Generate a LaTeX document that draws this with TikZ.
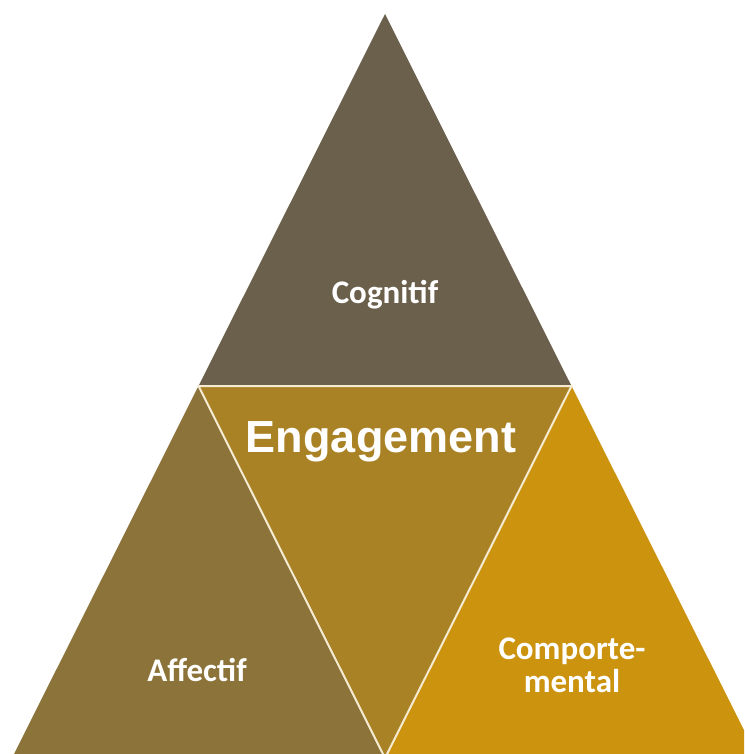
\documentclass[tikz,border=0pt]{standalone}
\usepackage{fontspec}
\setmainfont{Carlito}
\newfontfamily\arialbf[BoldFont={Liberation Sans Bold}]{Liberation Sans}
\definecolor{topc}{HTML}{6B604C}
\definecolor{leftc}{HTML}{8B7339}
\definecolor{midc}{HTML}{AA8226}
\definecolor{rightc}{HTML}{CC930F}
\definecolor{sep}{HTML}{F4EBD2}
\tikzset{
  part/.style={draw=none},
  sepline/.style={draw=sep, line width=2pt, line join=miter},
  lbl/.style={text=white, font=\fontsize{33}{33}\selectfont\bfseries, anchor=base, inner sep=0pt, align=center},
  title/.style={text=white, font=\fontsize{45}{48}\selectfont\arialbf\bfseries, anchor=base, inner sep=0pt}
}
\begin{document}
\begin{tikzpicture}[x=1pt,y=-1pt]
\useasboundingbox (0,0) rectangle (744,754);
\fill[white] (0,0) rectangle (744,754);
\begin{scope}
\clip (0,0) rectangle (744,754);
\coordinate (A) at (385,14);
\coordinate (L) at (12,758);
\coordinate (R) at (758,758);
\coordinate (ML) at (198.5,386);
\coordinate (MR) at (571.5,386);
\coordinate (MB) at (385,758);
\fill[topc] (A) -- (ML) -- (MR) -- cycle;
\fill[leftc] (ML) -- (L) -- (MB) -- cycle;
\fill[rightc] (MR) -- (MB) -- (R) -- cycle;
\fill[midc] (ML) -- (MR) -- (MB) -- cycle;
\draw[sepline] (ML) -- (MR) -- (MB) -- cycle;
\end{scope}
\node[lbl] (cog) at (385,303) {Cognitif};
\node[title] (eng) at (381,452) {Engagement};
\node[lbl] (aff) at (197,681) {Affectif};
\node[lbl, anchor=north] (comp) at (572,638) {Comporte-\\mental};
\end{tikzpicture}
\end{document}
